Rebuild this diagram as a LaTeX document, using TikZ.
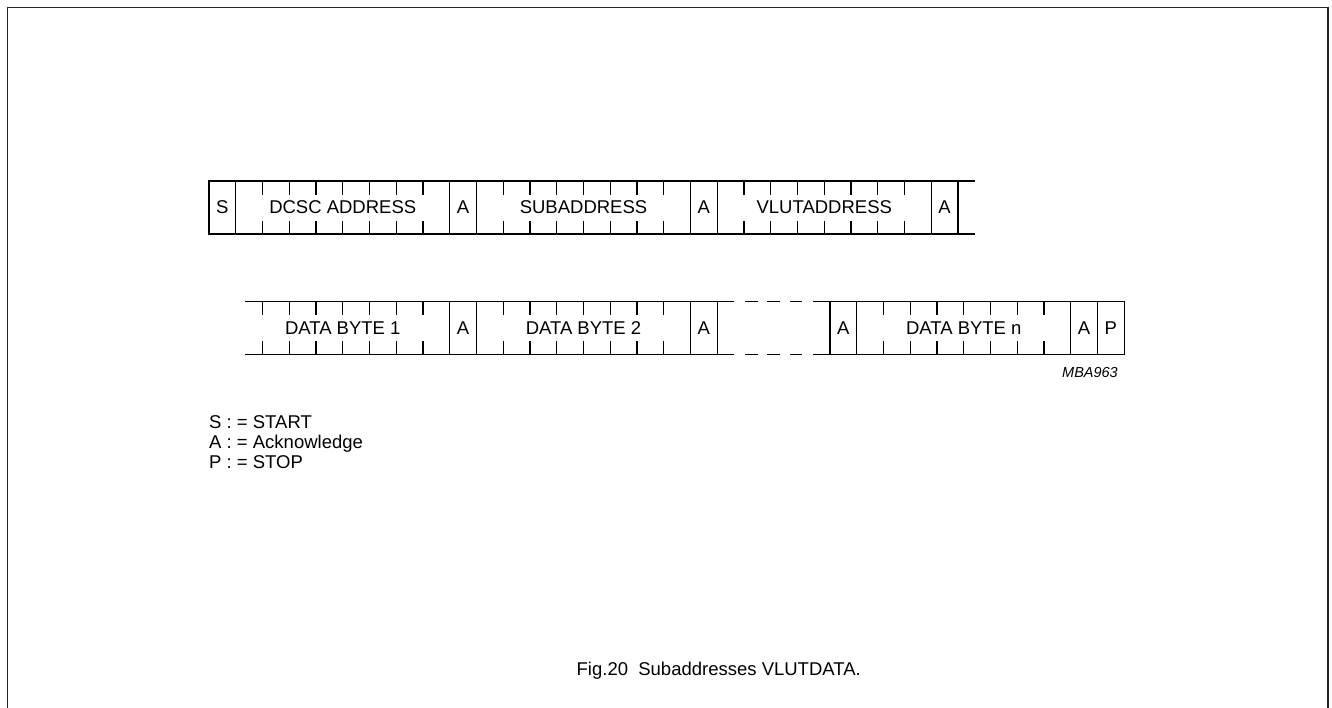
\documentclass[tikz,border=0pt]{standalone}
\usepackage{fontspec}
\setmainfont{Liberation Sans}
\usepackage{tikz}
\usetikzlibrary{positioning}
\newcommand{\fieldfont}{\fontsize{18.5}{22}\selectfont}

\begin{document}
\begin{tikzpicture}[x=1pt, y=1pt,
    bitbox/.style={draw, line width=1.1pt, outer sep=0pt, inner sep=0pt, minimum width=26.75pt, minimum height=53pt, font=\fieldfont},
    bytefield/.style={outer sep=0pt, inner sep=0pt, minimum width=214pt, minimum height=53pt, font=\fieldfont},
    plaintext/.style={inner sep=0pt, font=\fieldfont},
    wire/.style={line width=1.1pt},
    gapwire/.style={line width=1.1pt, dash pattern=on 12.5pt off 9.75pt}
]
\useasboundingbox (0,0) rectangle (1332,708);
\draw[line width=1.6pt, black!85] (7.5,0) -- (7.5,700.5) -- (1327.7,700.5) -- (1327.7,0);

% first frame
\node[bitbox] (s) at (222.375,500.5) {S};
\node[bytefield, right=0pt of s] (dcsc) {DCSC ADDRESS};
\node[bitbox, right=0pt of dcsc] (a1) {A};
\node[bytefield, right=0pt of a1] (sub) {SUBADDRESS};
\node[bitbox, right=0pt of sub] (a2) {A};
\node[bytefield, right=0pt of a2] (vlut) {VLUTADDRESS};
\node[bitbox, right=0pt of vlut] (a3) {A};

\foreach \f in {dcsc,sub,vlut} {
  \draw[wire] (\f.north west) -- (\f.north east);
  \draw[wire] (\f.south west) -- (\f.south east);
}
\draw[wire] (a3.north east) -- ++(17,0);
\draw[wire] (a3.south east) -- ++(17,0);

% second frame
\node[bytefield] (d1) at (342.75,380) {DATA BYTE 1};
\node[bitbox, right=0pt of d1] (a4) {A};
\node[bytefield, right=0pt of a4] (d2) {DATA BYTE 2};
\node[bitbox, right=0pt of d2] (a5) {A};
\node[bitbox, right=112.75pt of a5] (a6) {A};
\node[bytefield, right=0pt of a6] (dn) {DATA BYTE n};
\node[bitbox, right=0pt of dn] (a7) {A};
\node[bitbox, right=0pt of a7] (p) {P};

\draw[wire] ([xshift=9.25pt]d1.north west) -- (d1.north east);
\draw[wire] ([xshift=9.25pt]d1.south west) -- (d1.south east);
\foreach \f in {d2,dn} {
  \draw[wire] (\f.north west) -- (\f.north east);
  \draw[wire] (\f.south west) -- (\f.south east);
}
\draw[wire] (a5.north east) -- ++(17,0);
\draw[wire] (a5.south east) -- ++(17,0);
\draw[wire] (a6.north west) -- ++(-17,0);
\draw[wire] (a6.south west) -- ++(-17,0);
\draw[gapwire] ([xshift=27.75pt]a5.north east) -- ([xshift=-28pt]a6.north west);
\draw[gapwire] ([xshift=27.75pt]a5.south east) -- ([xshift=-28pt]a6.south west);

% bit ticks
\foreach \f in {dcsc,sub,vlut,d1,d2,dn}
  \foreach \k in {1,...,7} {
    \draw[wire] ([xshift=\k*26.75pt]\f.north west) -- ++(0,-14);
    \draw[wire] ([xshift=\k*26.75pt]\f.south west) -- ++(0,13);
  }

\node[plaintext, anchor=base east, font=\fontsize{14.5}{17}\selectfont\itshape] (code) at (1118,330.7) {MBA963};

% legend
\node[plaintext, anchor=base west] (legs) at (209,279) {S : = START};
\node[plaintext, anchor=base west] (lega) at (209,259) {A : = Acknowledge};
\node[plaintext, anchor=base west] (legp) at (209,239) {P : = STOP};

\node[plaintext, anchor=base east] (caption) at (861,32) {Fig.20\ \ Subaddresses VLUTDATA.};
\end{tikzpicture}
\end{document}
